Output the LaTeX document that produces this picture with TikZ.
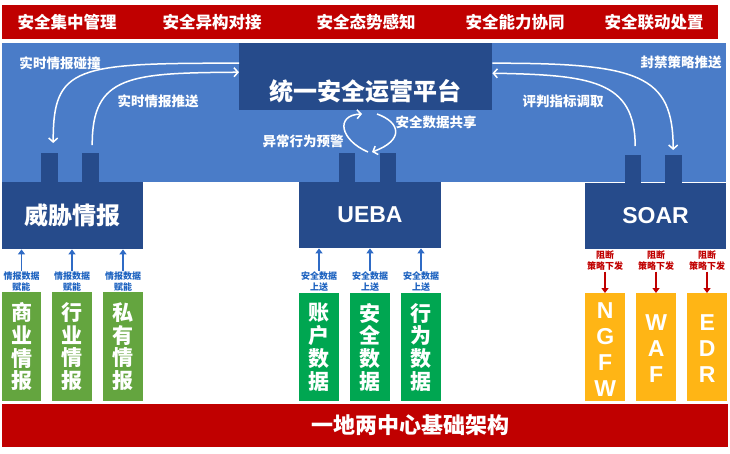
\documentclass[tikz,border=0pt]{standalone}
\usepackage{fontspec}
\setmainfont{Liberation Sans}
\newfontfamily\cjk{Noto Sans CJK SC}
\usetikzlibrary{arrows.meta}
\definecolor{cred}{HTML}{C00000}
\definecolor{cblue}{HTML}{4A7CC8}
\definecolor{cdark}{HTML}{264B8B}
\definecolor{clgreen}{HTML}{64A53F}
\definecolor{cgreen}{HTML}{00A651}
\definecolor{corange}{HTML}{FFB515}
\definecolor{carrblue}{HTML}{2F6BC5}
\definecolor{ctxtblue}{HTML}{1E63C0}
\begin{document}
\begin{tikzpicture}[x=1pt,y=-1pt,
  rect/.style={draw=none,inner sep=0pt,anchor=north west},
  redbar/.style={rect,fill=cred},
  darkbox/.style={rect,fill=cdark},
  toptxt/.style={text=white,font=\cjk\bfseries\fontsize{16.5}{18}\selectfont},
  bigtxt/.style={text=white,font=\cjk\bfseries\fontsize{24}{26}\selectfont},
  entxt/.style={text=white,font=\bfseries\fontsize{23}{25}\selectfont},
  flowlbl/.style={text=white,font=\cjk\bfseries\fontsize{13.5}{15}\selectfont},
  coltxt/.style={text=white,align=center,font=\cjk\bfseries\fontsize{21}{22.7}\selectfont},
  colen/.style={text=white,align=center,font=\bfseries\fontsize{23}{26}\selectfont},
  lgcol/.style={rect,fill=clgreen,minimum width=40pt,minimum height=109pt},
  gcol/.style={rect,fill=cgreen,minimum width=40pt,minimum height=108pt},
  ocol/.style={rect,fill=corange,minimum width=40pt,minimum height=108pt},
  bluelbl/.style={text=ctxtblue,align=center,inner sep=1pt,font=\cjk\bfseries\fontsize{9}{11}\selectfont},
  redlbl/.style={text=cred,align=center,inner sep=1pt,font=\cjk\bfseries\fontsize{9}{11}\selectfont},
  uparr/.style={draw=carrblue,line width=1.8pt,-{Triangle[length=5pt,width=7pt]}},
  downarr/.style={draw=cred,line width=1.8pt,-{Triangle[length=5pt,width=7pt]}},
  flow/.style={draw=white,line width=1.5pt,-{Straight Barb[length=4pt,width=9pt]}}
]
\useasboundingbox (0,0) rectangle (730,453);

% top bar
\node[redbar,minimum width=716pt,minimum height=34pt] (top) at (2,5) {};
\node[toptxt] (t1) at (67,22) {安全集中管理};
\node[toptxt] (t2) at (212,22) {安全异构对接};
\node[toptxt] (t3) at (366,22) {安全态势感知};
\node[toptxt] (t4) at (515,22) {安全能力协同};
\node[toptxt] (t5) at (654,22) {安全联动处置};

% blue background
\node[rect,fill=cblue,minimum width=724pt,minimum height=139pt] (bg) at (2,43) {};

% platform
\node[darkbox,minimum width=253pt,minimum height=67pt] (plat) at (239,43) {};
\node[bigtxt] (plattxt) at (365.5,91) {统一安全运营平台};

% tabs
\node[darkbox,minimum width=17pt,minimum height=29pt] (tA1) at (41,153) {};
\node[darkbox,minimum width=17pt,minimum height=29pt] (tA2) at (82,153) {};
\node[darkbox,minimum width=16pt,minimum height=29pt] (tU1) at (339,153) {};
\node[darkbox,minimum width=16pt,minimum height=29pt] (tU2) at (380,153) {};
\node[darkbox,minimum width=16pt,minimum height=28pt] (tS1) at (625,155) {};
\node[darkbox,minimum width=17pt,minimum height=28pt] (tS2) at (665,155) {};

% boxes
\node[darkbox,minimum width=141pt,minimum height=67pt] (ti) at (2,182) {};
\node[bigtxt] (titxt) at (72.5,215) {威胁情报};
\node[darkbox,minimum width=142pt,minimum height=66pt] (ueba) at (299,182) {};
\node[entxt] (uebatxt) at (370,215) {UEBA};
\node[darkbox,minimum width=141pt,minimum height=66pt] (soar) at (585,183) {};
\node[entxt] (soartxt) at (655.5,216) {SOAR};

% flow arrows
\draw[flow] ([yshift=13.5pt]plat.west) .. controls (75,63) and (53,66) .. ([xshift=3.5pt,yshift=10pt]tA1.north);
\draw[flow] ([xshift=1.5pt,yshift=8pt]tA2.north) .. controls (92,75) and (130,73) .. ([yshift=4.5pt]plat.west);
\draw[flow] ([yshift=13.5pt]plat.east) .. controls (640,63) and (673,75) .. ([xshift=-0.5pt,yshift=5pt]tS2.north);
\draw[flow] ([xshift=2pt,yshift=9pt]tS1.north) .. controls (635,80) and (590,75) .. ([yshift=3.5pt]plat.east);
\coordinate (la) at (368,152);
\coordinate (lb) at (362,114);
\coordinate (ra) at (377,114);
\coordinate (rb) at (372,152);
\draw[flow] (la) .. controls (340,140) and (335,115) .. (lb);
\draw[flow] (ra) .. controls (400,122) and (405,140) .. (rb);

\node[flowlbl] (f1) at (60,63) {实时情报碰撞};
\node[flowlbl] (f2) at (158,101) {实时情报推送};
\node[flowlbl] (f3) at (681,62) {封禁策略推送};
\node[flowlbl] (f4) at (563,101) {评判指标调取};
\node[flowlbl] (f5) at (303,141) {异常行为预警};
\node[flowlbl] (f6) at (436,122) {安全数据共享};

% columns
\node[lgcol,minimum width=39pt] (c1) at (2,292) {};
\node[coltxt] at (c1.center) {商\\业\\情\\报};
\node[lgcol] (c2) at (52,292) {};
\node[coltxt] at (c2.center) {行\\业\\情\\报};
\node[lgcol] (c3) at (103,292) {};
\node[coltxt] at (c3.center) {私\\有\\情\\报};

\node[gcol] (d1) at (299,293) {};
\node[coltxt] at (d1.center) {账\\户\\数\\据};
\node[gcol] (d2) at (350,293) {};
\node[coltxt] at (d2.center) {安\\全\\数\\据};
\node[gcol] (d3) at (401,293) {};
\node[coltxt] at (d3.center) {行\\为\\数\\据};

\node[ocol] (e1) at (585,293) {};
\node[colen] at ([yshift=-2pt]e1.center) {N\\G\\F\\W};
\node[ocol] (e2) at (636,293) {};
\node[colen] at ([yshift=-1pt]e2.center) {W\\A\\F};
\node[ocol] (e3) at (687,293) {};
\node[colen] at ([yshift=-1pt]e3.center) {E\\D\\R};

% small labels and arrows
\node[bluelbl] (l1) at (21.5,281.5) {情报数据\\赋能};
\node[bluelbl] (l2) at (72,281.5) {情报数据\\赋能};
\node[bluelbl] (l3) at (123,281.5) {情报数据\\赋能};
\draw[uparr] (l1.north) -- (l1.north |- ti.south);
\draw[uparr] (l2.north) -- (l2.north |- ti.south);
\draw[uparr] (l3.north) -- (l3.north |- ti.south);

\node[bluelbl] (u1) at (319,282) {安全数据\\上送};
\node[bluelbl] (u2) at (370,282) {安全数据\\上送};
\node[bluelbl] (u3) at (421,282) {安全数据\\上送};
\draw[uparr] (u1.north) -- (u1.north |- ueba.south);
\draw[uparr] (u2.north) -- (u2.north |- ueba.south);
\draw[uparr] (u3.north) -- (u3.north |- ueba.south);

\node[redlbl] (r1) at (605,260.5) {阻断\\策略下发};
\node[redlbl] (r2) at (656,260.5) {阻断\\策略下发};
\node[redlbl] (r3) at (707,260.5) {阻断\\策略下发};
\draw[downarr] (r1.south) -- (r1.south |- e1.north);
\draw[downarr] (r2.south) -- (r2.south |- e2.north);
\draw[downarr] (r3.south) -- (r3.south |- e3.north);

% bottom bar
\node[redbar,minimum width=726pt,minimum height=43pt] (bot) at (2,404) {};
\node[text=white,font=\cjk\bfseries\fontsize{22}{24}\selectfont] (bottxt) at (410,425) {一地两中心基础架构};
\end{tikzpicture}
\end{document}
